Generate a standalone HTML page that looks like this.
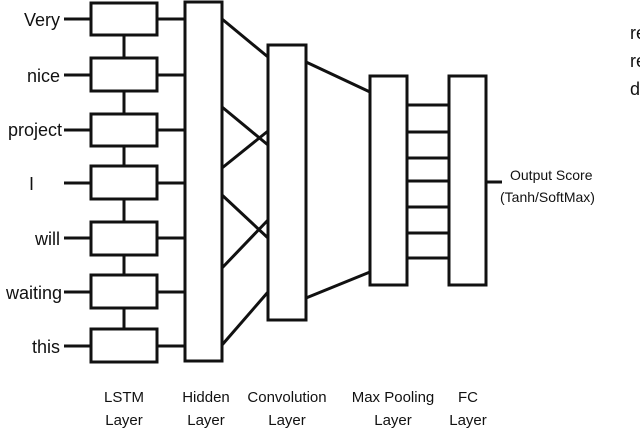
<!DOCTYPE html>
<html><head><meta charset="utf-8"><style>
body{margin:0;background:#fff;width:640px;height:428px;overflow:hidden}
svg{display:block}
text{font-family:"Liberation Sans",sans-serif;fill:#111}
</style></head><body>
<svg width="640" height="428" viewBox="0 0 640 428" xmlns="http://www.w3.org/2000/svg">
<g stroke="#111" stroke-width="3" fill="none">
<!-- LSTM vertical chain -->
<line x1="124" y1="35" x2="124" y2="329"/>
<!-- word lines & lstm->hidden -->
<g>
<line x1="64" y1="19" x2="91" y2="19"/><line x1="157" y1="19" x2="185" y2="19"/>
<line x1="64" y1="75" x2="91" y2="75"/><line x1="157" y1="75" x2="185" y2="75"/>
<line x1="64" y1="130" x2="91" y2="130"/><line x1="157" y1="130" x2="185" y2="130"/>
<line x1="64" y1="183" x2="91" y2="183"/><line x1="157" y1="183" x2="185" y2="183"/>
<line x1="64" y1="238" x2="91" y2="238"/><line x1="157" y1="238" x2="185" y2="238"/>
<line x1="64" y1="292" x2="91" y2="292"/><line x1="157" y1="292" x2="185" y2="292"/>
<line x1="64" y1="346" x2="91" y2="346"/><line x1="157" y1="346" x2="185" y2="346"/>
</g>
<g fill="#fff">
<rect x="91" y="3" width="66" height="32"/>
<rect x="91" y="58" width="66" height="33"/>
<rect x="91" y="114" width="66" height="32"/>
<rect x="91" y="166" width="66" height="33"/>
<rect x="91" y="222" width="66" height="33"/>
<rect x="91" y="275" width="66" height="33"/>
<rect x="91" y="329" width="66" height="33"/>
</g>
<rect x="185" y="2" width="37" height="359"/>
<rect x="268" y="45" width="38" height="275"/>
<!-- hidden -> conv -->
<line x1="222" y1="19" x2="268" y2="57"/>
<line x1="222" y1="107" x2="268" y2="145"/>
<line x1="222" y1="168" x2="268" y2="131"/>
<line x1="222" y1="195" x2="268" y2="238"/>
<line x1="222" y1="268" x2="268" y2="220"/>
<line x1="222" y1="345" x2="268" y2="292"/>
<!-- conv -> maxpool -->
<line x1="306" y1="62" x2="370" y2="92"/>
<line x1="306" y1="298" x2="370" y2="272"/>
<rect x="370" y="76" width="37" height="209"/>
<rect x="449" y="76" width="37" height="209"/>
<line x1="407" y1="105" x2="449" y2="105"/>
<line x1="407" y1="132" x2="449" y2="132"/>
<line x1="407" y1="158" x2="449" y2="158"/>
<line x1="407" y1="181" x2="449" y2="181"/>
<line x1="407" y1="207" x2="449" y2="207"/>
<line x1="407" y1="233" x2="449" y2="233"/>
<line x1="407" y1="258" x2="449" y2="258"/>
<line x1="486" y1="182" x2="502" y2="182"/>
</g>
<g font-size="18" text-anchor="end">
<text x="60" y="26">Very</text>
<text x="60" y="82">nice</text>
<text x="62" y="136">project</text>
<text x="34" y="190">I</text>
<text x="60" y="245">will</text>
<text x="62" y="299">waiting</text>
<text x="60" y="353">this</text>
</g>
<g font-size="14">
<text x="510" y="180">Output Score</text>
<text x="500" y="202">(Tanh/SoftMax)</text>
</g>
<g font-size="15" text-anchor="middle">
<text x="124" y="402">LSTM</text><text x="124" y="425">Layer</text>
<text x="206" y="402">Hidden</text><text x="206" y="425">Layer</text>
<text x="287" y="402">Convolution</text><text x="287" y="425">Layer</text>
<text x="393" y="402">Max Pooling</text><text x="393" y="425">Layer</text>
<text x="468" y="402">FC</text><text x="468" y="425">Layer</text>
</g>
<g font-size="18" style="font-family:'Liberation Serif',serif">
<text x="630" y="39">re</text>
<text x="630" y="67">re</text>
<text x="630" y="95">d</text>
</g>
</svg>
</body></html>
